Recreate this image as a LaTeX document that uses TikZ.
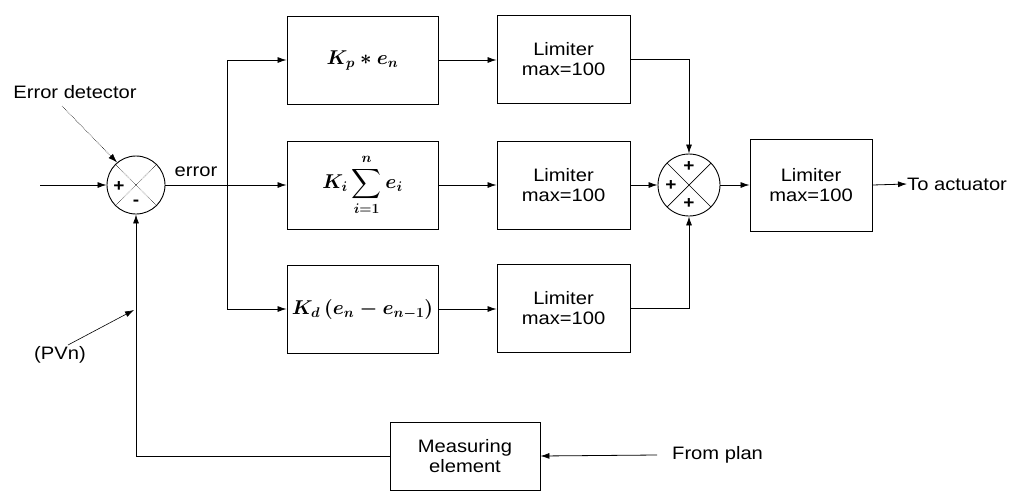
\RequirePackage{fix-cm}
\documentclass[tikz,border=0pt]{standalone}
\usepackage{amsmath}
\usepackage{exscale}
\usepackage{fontspec}
\setmainfont[FakeStretch=1.12]{Liberation Sans}
\usetikzlibrary{arrows.meta,calc}
\begin{document}
\begin{tikzpicture}[x=1pt,y=-1pt,
  pidbox/.style={draw, line width=0.9pt, minimum width=151pt, minimum height=88pt, inner sep=0pt, font=\fontsize{20}{22}\selectfont\boldmath},
  lim/.style={draw, line width=0.9pt, minimum width=133pt, minimum height=88pt, align=center, inner sep=0pt, font=\fontsize{18}{20}\selectfont},
  sumc/.style={circle, draw, line width=0.9pt, minimum size=58pt, inner sep=0pt},
  sgn/.style={font=\fontsize{17}{17}\selectfont\bfseries, inner sep=0pt},
  conn/.style={line width=0.8pt, -{Latex[length=9pt,width=6pt]}},
  lbl/.style={font=\fontsize{18}{20}\selectfont, inner sep=0pt}]
\useasboundingbox (0,0) rectangle (1034,496);

% blocks
\node[pidbox] (b1) at (362.5,60) {$K_p * e_n$};
\node[pidbox] (b2) at (362.5,185) {$\displaystyle K_i\sum_{i=1}^{n} e_i$};
\node[pidbox] (b3) at (362.5,309) {$K_d\,(e_n - e_{n-1})$};
\node[lim] (l1) at (563.5,59) {Limiter\\max=100};
\node[lim] (l2) at (563.5,185) {Limiter\\max=100};
\node[lim] (l3) at (563.5,308) {Limiter\\max=100};
\node[lim, minimum width=122pt, minimum height=92pt] (l4) at (811,185) {Limiter\\max=100};
\node[lim, minimum width=150pt, minimum height=68pt] (me) at (465,456) {Measuring\\element};

% summing junctions
\node[sumc] (s1) at (136,185) {};
\draw[line width=0.5pt, densely dotted] (s1.45) -- (s1.225) (s1.135) -- (s1.315);
\node[sgn] (s1p) at (119,187) {+};
\node[sgn] (s1m) at (136,203) {-};
\node[sumc, minimum size=62pt] (s2) at (689,185) {};
\draw[line width=0.7pt] (s2.45) -- (s2.225) (s2.135) -- (s2.315);
\node[sgn] (s2t) at (689,167) {+};
\node[sgn] (s2l) at (671,186) {+};
\node[sgn] (s2b) at (689,204) {+};

% labels
\node[lbl] (ed) at (75,92) {Error detector};
\node[lbl] (err) at (196,172) {error};
\node[lbl, anchor=west] (act) at (907,184) {To actuator};
\node[lbl, anchor=west] (fp) at (672,455) {From plan};
\node[lbl] (pvn) at (60,355) {(PVn)};

% coordinates
\coordinate (in) at (40,185);
\coordinate (j) at (227,185);
\coordinate (edst) at (62,106);
\coordinate (pvst) at (68,345);
\coordinate (pvt) at (134,310);
\coordinate (fpst) at (657,455);

% connectors
\draw[conn] (in) -- (s1.west);
\draw[conn] (s1.east) -- (b2.west);
\draw[conn] (j) |- (b1.west);
\draw[conn] (j) |- (b3.west);
\draw[conn] (b1.east) -- (l1.west |- b1.east);
\draw[conn] (b2.east) -- (l2.west);
\draw[conn] (b3.east) -- (l3.west |- b3.east);
\draw[conn] (l1.east) -| (s2.north);
\draw[conn] (l2.east) -- (s2.west);
\draw[conn] (l3.east) -| (s2.south);
\draw[conn] (s2.east) -- (l4.west);
\draw[conn] (l4.east) -- (act.west);
\draw[conn] (fpst) -- (me.east);
\draw[conn] (me.west) -| (s1.south);
\draw[line width=0.6pt, densely dotted, -{Latex[length=9pt,width=6pt]}] (edst) -- (s1.130);
\draw[line width=0.6pt, -{Latex[length=9pt,width=6pt]}] (pvst) -- (pvt);
\end{tikzpicture}
\end{document}
